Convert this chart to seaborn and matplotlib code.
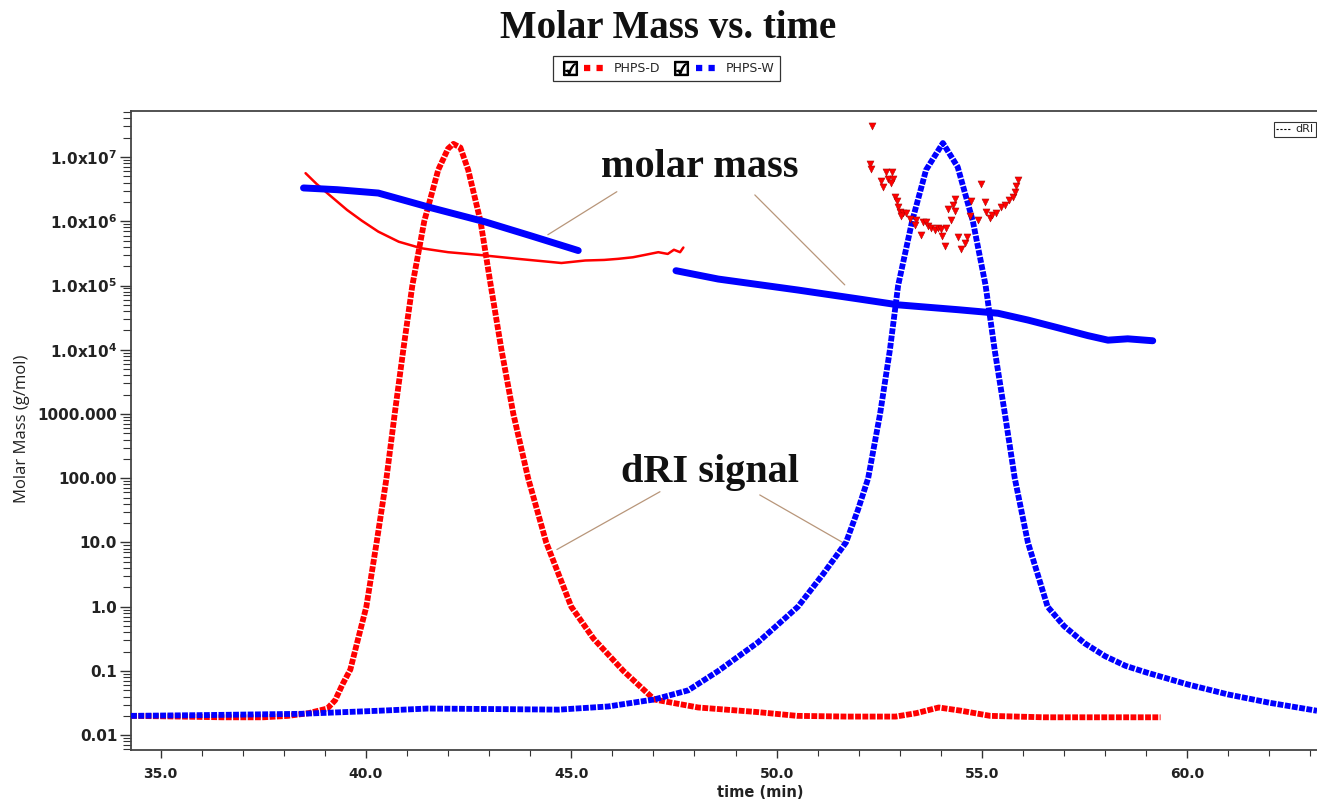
import matplotlib
matplotlib.use("Agg")
import matplotlib.pyplot as plt
import seaborn as sns
from matplotlib.lines import Line2D
from matplotlib.legend_handler import HandlerTuple
from matplotlib.ticker import FixedLocator, FixedFormatter, LogLocator, MultipleLocator, NullFormatter

# ---------------- data ----------------
# dRI trace, PHPS-D
dri_d_time = [34.28, 35.5, 36.5, 37.5, 38.1, 38.6, 39.06, 39.25, 39.43, 39.62, 39.8, 40.01,
              40.26, 40.5, 40.7, 40.91, 41.13, 41.42, 41.76, 42.0, 42.13, 42.3, 42.49, 42.79,
              43.04, 43.3, 43.59, 43.95, 44.39, 45.0, 45.54, 46.27, 47.02, 48.09, 49.5, 50.5,
              51.7, 52.9, 53.4, 53.95, 54.5, 55.2, 56.5, 59.35]
dri_d_value = [0.020, 0.0195, 0.019, 0.019, 0.020, 0.022, 0.026, 0.035, 0.062, 0.105, 0.3, 1.0,
               10, 100, 1000, 1e4, 1e5, 1e6, 6.3e6, 1.35e7, 1.6e7, 1.4e7, 6.3e6, 1e6,
               1e5, 1e4, 1000, 100, 10, 1.0, 0.32, 0.1, 0.036, 0.027, 0.023, 0.020,
               0.0195, 0.0195, 0.022, 0.027, 0.024, 0.020, 0.019, 0.019]

# dRI trace, PHPS-W
dri_w_time = [34.28, 35.9, 38.4, 40.3, 41.5, 43.2, 44.7, 45.9, 47.02, 47.85, 48.58, 49.55,
              50.52, 51.13, 51.69, 51.98, 52.23, 52.52, 52.76, 52.96, 53.3, 53.64, 54.05,
              54.41, 54.78, 55.09, 55.31, 55.56, 55.8, 56.12, 56.6, 57.0, 57.5, 58.0, 58.5,
              59.0, 60.0, 61.0, 62.0, 63.16]
dri_w_value = [0.020, 0.0205, 0.0215, 0.024, 0.026, 0.0255, 0.025, 0.028, 0.036, 0.05, 0.1, 0.28,
               1.0, 3.2, 10, 32, 100, 1000, 1e4, 1e5, 1e6, 6.3e6, 1.65e7,
               7e6, 1e6, 1e5, 1e4, 1000, 100, 10, 1.0, 0.5, 0.27, 0.17, 0.12,
               0.095, 0.062, 0.043, 0.032, 0.024]

# molar mass, PHPS-D (continuous part)
mm_d_time = [38.53, 38.8, 39.1, 39.54, 39.9, 40.3, 40.8, 41.35, 42.0, 42.74, 43.7, 44.76,
             45.34, 45.8, 46.14, 46.5, 46.8, 47.12, 47.35, 47.5, 47.65, 47.73]
mm_d_value = [5.6e6, 3.8e6, 2.6e6, 1.5e6, 1.02e6, 6.9e5, 4.8e5, 3.8e5, 3.3e5, 3.0e5, 2.6e5, 2.24e5,
              2.45e5, 2.5e5, 2.6e5, 2.75e5, 3.0e5, 3.3e5, 3.1e5, 3.6e5, 3.3e5, 3.9e5]

# molar mass, PHPS-D (scattered slices under the second peak)
mm_d2_time = [52.32, 52.27, 52.30, 52.66, 52.81, 52.54, 52.71, 52.83, 52.79, 52.59, 52.88, 52.93,
              52.96, 53.00, 53.08, 53.15, 53.03, 53.25, 53.39, 53.37, 53.52, 53.56, 53.64, 53.69,
              53.76, 53.86, 53.93, 54.00, 54.12, 54.25, 54.03, 54.10, 54.17, 54.29, 54.34, 54.34,
              54.42, 54.49, 54.59, 54.64, 54.71, 54.73, 54.90, 54.98, 55.07, 55.10, 55.19, 55.24,
              55.34, 55.46, 55.56, 55.66, 55.75, 55.80, 55.83, 55.88]
mm_d2_value = [3.0e7, 7.8e6, 6.5e6, 5.8e6, 5.8e6, 4.2e6, 4.6e6, 4.6e6, 3.9e6, 3.4e6, 2.4e6, 2.1e6,
               1.67e6, 1.39e6, 1.34e6, 1.34e6, 1.2e6, 1.09e6, 1.05e6, 8.8e5, 6.1e5, 9.8e5, 9.8e5, 8.5e5,
               7.9e5, 7.3e5, 7.9e5, 7.6e5, 7.9e5, 1.05e6, 5.9e5, 4.1e5, 1.55e6, 1.8e6, 2.2e6, 1.45e6,
               5.7e5, 3.7e5, 4.6e5, 5.7e5, 1.2e6, 2.1e6, 1.05e6, 3.8e6, 2.0e6, 1.39e6, 1.13e6, 1.25e6,
               1.34e6, 1.67e6, 1.8e6, 2.15e6, 2.4e6, 2.9e6, 3.6e6, 4.4e6]

# molar mass, PHPS-W (two collected segments)
mm_w1_time = [38.48, 39.3, 40.3, 41.59, 42.9, 44.03, 45.17]
mm_w1_value = [3.3e6, 3.1e6, 2.75e6, 1.62e6, 9.8e5, 5.9e5, 3.5e5]
mm_w2_time = [47.55, 48.58, 50.52, 51.98, 52.96, 54.42, 55.39, 56.12, 56.85, 57.58, 58.07, 58.55, 59.16]
mm_w2_value = [1.7e5, 1.26e5, 8.5e4, 6.2e4, 5.0e4, 4.2e4, 3.7e4, 2.9e4, 2.2e4, 1.66e4, 1.41e4, 1.48e4, 1.38e4]

y_ticks = [0.01, 0.1, 1.0, 10.0, 100.0, 1000.0, 1e4, 1e5, 1e6, 1e7]
y_tick_labels = ["0.01", "0.1", "1.0", "10.0", "100.00", "1000.000",
                 "1.0x10$^{4}$", "1.0x10$^{5}$", "1.0x10$^{6}$", "1.0x10$^{7}$"]
x_ticks = [35.0, 40.0, 45.0, 50.0, 55.0, 60.0]
x_tick_labels = ["35.0", "40.0", "45.0", "50.0", "55.0", "60.0"]
series_names = ["PHPS-D", "PHPS-W"]

RED = "#ff0000"
BLUE = "#0000ff"
NOTE = "#b8967a"

# ---------------- figure ----------------
sns.set_theme(style="white")
plt.rcParams["font.family"] = ["DejaVu Sans"]
plt.rcParams["mathtext.default"] = "bf"

fig = plt.figure(figsize=(13.17, 8.01), dpi=100)
ax = fig.add_axes([0.0995, 0.0637, 0.9005, 0.7977])

chain = (0, (1.0, 0.25))
sns.lineplot(x=dri_d_time, y=dri_d_value, ax=ax, color=RED, lw=4.2, linestyle=chain,
             sort=False, estimator=None, zorder=3)
sns.lineplot(x=dri_w_time, y=dri_w_value, ax=ax, color=BLUE, lw=4.2, linestyle=chain,
             sort=False, estimator=None, zorder=4)

sns.lineplot(x=mm_d_time, y=mm_d_value, ax=ax, color=RED, lw=1.8,
             sort=False, estimator=None, zorder=5)
sns.lineplot(x=mm_w1_time, y=mm_w1_value, ax=ax, color=BLUE, lw=5.0,
             sort=False, estimator=None, zorder=6)
sns.lineplot(x=mm_w2_time, y=mm_w2_value, ax=ax, color=BLUE, lw=5.0,
             sort=False, estimator=None, zorder=6)
sns.scatterplot(x=mm_d2_time, y=mm_d2_value, ax=ax, marker="v", color=RED, s=26,
                edgecolor="#9a0000", linewidth=0.3, zorder=7)

ax.set_yscale("log")
ax.set_xlim(34.28, 63.16)
ax.set_ylim(10 ** -2.23, 10 ** 7.716)

ax.yaxis.set_major_locator(FixedLocator(y_ticks))
ax.yaxis.set_major_formatter(FixedFormatter(y_tick_labels))
ax.yaxis.set_minor_locator(LogLocator(base=10, subs=range(2, 10), numticks=30))
ax.yaxis.set_minor_formatter(NullFormatter())
ax.xaxis.set_major_locator(FixedLocator(x_ticks))
ax.xaxis.set_major_formatter(FixedFormatter(x_tick_labels))
ax.xaxis.set_minor_locator(MultipleLocator(1.0))

ax.tick_params(axis="both", which="both", direction="out", color="#333333")
ax.tick_params(axis="y", which="major", length=8, width=1.0, left=True, pad=2, labelsize=11)
ax.tick_params(axis="y", which="minor", length=6, width=0.8, left=True)
ax.tick_params(axis="x", which="major", length=6, width=1.0, bottom=True, pad=6, labelsize=10)
ax.tick_params(axis="x", which="minor", length=4, width=0.8, bottom=True)
for lbl in ax.get_xticklabels() + ax.get_yticklabels():
    lbl.set_fontweight("bold")
    lbl.set_color("#222222")

for side in ["left", "bottom", "top"]:
    ax.spines[side].set_visible(True)
    ax.spines[side].set_color("#444444")
    ax.spines[side].set_linewidth(1.3)
ax.spines["right"].set_visible(False)
ax.set_xlabel("")
ax.set_ylabel("")

# annotations
ax.text(48.13, 10 ** 6.83, "molar mass", family="Liberation Serif", weight="bold",
        size=29, ha="center", va="center", color="#111111")
ax.text(48.38, 10 ** 2.09, "dRI signal", family="Liberation Serif", weight="bold",
        size=29, ha="center", va="center", color="#111111")
for start, end in [((46.11, 10 ** 6.46), (44.43, 10 ** 5.79)),
                   ((49.47, 10 ** 6.41), (51.66, 10 ** 5.01)),
                   ((47.16, 10 ** 1.79), (44.65, 10 ** 0.89)),
                   ((49.59, 10 ** 1.74), (51.61, 10 ** 1.0))]:
    ax.annotate("", xy=end, xytext=start,
                arrowprops=dict(arrowstyle="-", color=NOTE, lw=0.9, shrinkA=0, shrinkB=0))

# axis titles and figure title
fig.text(0.507, 0.965, "Molar Mass vs. time", family="Liberation Serif", weight="bold",
         size=28, ha="center", va="center", color="#111111")
fig.text(0.0167, 0.465, "Molar Mass (g/mol)", family="Open Sans", size=12,
         rotation=90, ha="center", va="center", color="#222222")
fig.text(0.577, 0.010, "time (min)", weight="bold", size=10.5, ha="center",
         va="center", color="#222222")

# series legend with check boxes
chk_d = Line2D([], [], ls="none", marker="$\u2611$", color="black", markersize=10)
chk_w = Line2D([], [], ls="none", marker="$\u2611$", color="black", markersize=10)
h_d = Line2D([], [], color=RED, lw=4.5, ls=(0, (1, 1)))
h_w = Line2D([], [], color=BLUE, lw=4.5, ls=(0, (1, 1)))
leg = fig.legend(handles=[(chk_d, h_d), (chk_w, h_w)], labels=series_names,
                 handler_map={tuple: HandlerTuple(ndivide=None, pad=0.3)},
                 loc="center", bbox_to_anchor=(0.506, 0.9145), ncol=2,
                 frameon=True, fancybox=False, edgecolor="black", fontsize=9,
                 handlelength=3.8, columnspacing=0.8, handletextpad=0.6, borderpad=0.45)
leg.get_frame().set_linewidth(0.9)

# detector legend
dleg = ax.legend(handles=[Line2D([], [], color="black", lw=0.8, ls=(0, (2, 1.5)))],
                 labels=["dRI"], loc="upper right", bbox_to_anchor=(1.004, 0.992),
                 fontsize=8, frameon=True, fancybox=False, edgecolor="black",
                 handlelength=1.3, handletextpad=0.4, borderpad=0.25)
dleg.get_frame().set_linewidth(0.8)

fig.savefig("out.png", dpi=100)
